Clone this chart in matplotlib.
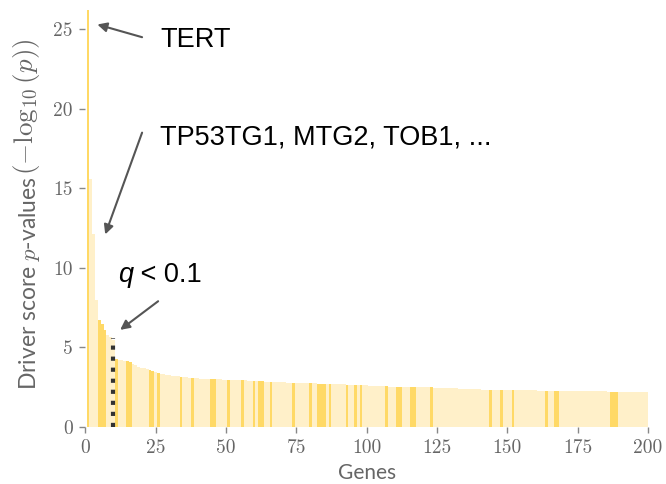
import matplotlib
matplotlib.use("Agg")
import matplotlib.pyplot as plt

plt.rcParams['mathtext.fontset'] = 'cm'

# driver score -log10(p) per gene, ranked
scores = [
    26.2, 15.6, 12.1, 8.0, 6.7, 6.5, 6.1, 5.8, 5.65, 5.45,
    4.28, 4.22, 4.19, 4.16, 4.13, 4.08, 3.96, 3.86, 3.79, 3.73,
    3.68, 3.63, 3.58, 3.52, 3.45, 3.4, 3.35, 3.31, 3.27, 3.24,
    3.21, 3.19, 3.17, 3.15, 3.13, 3.11, 3.1, 3.08, 3.07, 3.05,
    3.04, 3.03, 3.02, 3.01, 3.0, 2.99, 2.99, 2.98, 2.97, 2.97,
    2.96, 2.96, 2.95, 2.94, 2.93, 2.92, 2.92, 2.91, 2.9, 2.89,
    2.88, 2.87, 2.86, 2.85, 2.84, 2.83, 2.82, 2.82, 2.81, 2.81,
    2.8, 2.79, 2.79, 2.78, 2.77, 2.76, 2.76, 2.75, 2.75, 2.74,
    2.74, 2.73, 2.71, 2.71, 2.7, 2.7, 2.69, 2.69, 2.68, 2.68,
    2.67, 2.67, 2.66, 2.66, 2.65, 2.64, 2.64, 2.63, 2.62, 2.61,
    2.6, 2.59, 2.58, 2.57, 2.56, 2.55, 2.54, 2.53, 2.53, 2.52,
    2.52, 2.51, 2.51, 2.51, 2.5, 2.5, 2.5, 2.5, 2.49, 2.49,
    2.49, 2.48, 2.48, 2.47, 2.46, 2.45, 2.45, 2.44, 2.44, 2.43,
    2.43, 2.42, 2.41, 2.4, 2.39, 2.38, 2.37, 2.37, 2.36, 2.36,
    2.35, 2.35, 2.34, 2.34, 2.33, 2.33, 2.32, 2.32, 2.32, 2.31,
    2.31, 2.31, 2.3, 2.3, 2.3, 2.3, 2.29, 2.29, 2.29, 2.29,
    2.28, 2.28, 2.28, 2.28, 2.27, 2.27, 2.27, 2.27, 2.26, 2.26,
    2.26, 2.26, 2.25, 2.25, 2.25, 2.25, 2.24, 2.24, 2.24, 2.24,
    2.23, 2.23, 2.23, 2.23, 2.23, 2.22, 2.22, 2.22, 2.22, 2.22,
    2.21, 2.21, 2.21, 2.21, 2.21, 2.2, 2.2, 2.2, 2.2, 2.2,
]
genes = list(range(1, len(scores) + 1))

# ranks of the highlighted genes
highlighted = [1, 5, 6, 7, 11, 15, 16, 23, 24, 26, 34, 38, 45, 46, 51, 56, 60,
               62, 63, 66, 74, 80, 83, 84, 85, 87, 93, 96, 98, 107, 111, 112,
               116, 117, 123, 144, 148, 152, 164, 167, 168, 187, 188, 189]

q_cutoff = 9.8        # q < 0.1 threshold position
q_cutoff_height = 5.6

light = '#FFF0C9'
dark = '#FFD966'
colors = [dark if g in highlighted else light for g in genes]

fig = plt.figure(figsize=(6.66, 4.84), dpi=100)
ax = fig.add_axes([0.128, 0.118, 0.845, 0.861])

ax.bar(genes, scores, width=1.0, color=colors, linewidth=0)
ax.plot([q_cutoff, q_cutoff], [0, q_cutoff_height], color='#333333',
        linestyle=':', linewidth=3)

ax.set_xlim(0, 200)
ax.set_ylim(0, 26.2)
for s in ax.spines.values():
    s.set_visible(False)

xt = list(range(0, 201, 25))
yt = list(range(0, 26, 5))
ax.set_xticks(xt)
ax.set_yticks(yt)
ax.set_xticklabels([str(v) for v in xt], family='cmr10', fontsize=14, color='#666666')
ax.set_yticklabels([str(v) for v in yt], family='cmr10', fontsize=14, color='#666666')
ax.tick_params(length=4, width=1, color='#888888', pad=5)

ax.set_xlabel('Genes', family='Lato', fontsize=15, color='#666666', labelpad=4)

# y label in two parts so the math part can be set larger
yl = fig.text(30 / 666, 94 / 484, r'Driver score $p$-values ', family='Lato',
              fontsize=16.5, color='#666666', rotation=90, ha='center', va='bottom')
ax.annotate(r'$(-\log_{10}(p))$', xy=(0.5, 1), xycoords=yl, xytext=(-2.5, 0),
            textcoords='offset points', fontsize=19.5, color='#666666',
            rotation=90, ha='center', va='bottom', annotation_clip=False)

arrow = dict(arrowstyle='-|>', color='#555555', lw=1.5, mutation_scale=14,
             shrinkA=0, shrinkB=0)
ax.annotate('', xy=(4.3, 25.3), xytext=(20.2, 24.5), arrowprops=arrow)
ax.text(26.6, 24.3, 'TERT', family='Liberation Sans', fontsize=19.5, va='center')

ax.annotate('', xy=(7.1, 12.1), xytext=(20.2, 18.5), arrowprops=arrow)
ax.text(26.6, 18.2, 'TP53TG1, MTG2, TOB1, ...', family='Liberation Sans',
        fontsize=19.5, va='center')

ax.annotate('', xy=(12.4, 6.1), xytext=(25.9, 7.9), arrowprops=arrow)
qt = ax.text(11.7, 9.1, 'q', family='Liberation Sans', style='italic',
             fontsize=19.5, va='baseline')
ax.annotate(' < 0.1', xy=(1, 0), xycoords=qt, family='Liberation Sans',
            fontsize=19.5, va='bottom')

fig.savefig('out.png', dpi=100)
